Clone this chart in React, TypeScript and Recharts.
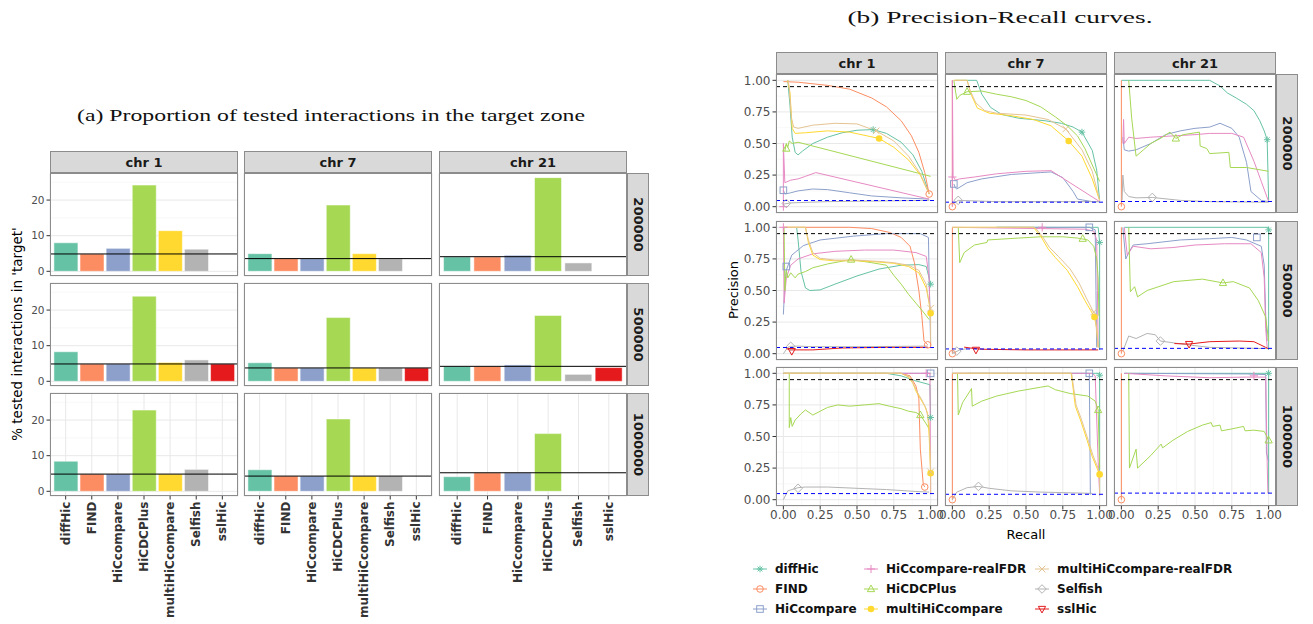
import React from 'react';
import {
  BarChart, Bar, Cell, XAxis, YAxis, CartesianGrid, ReferenceLine,
  ComposedChart, Line, Scatter,
} from 'recharts';

type Pt = [number, number];
type Curve = { m: string; pts: Pt[]; mark: Pt | null };

const FONT = '"DejaVu Sans", sans-serif';
const SERIF = '"Liberation Serif", serif';

const COLORS: Record<string, string> = {
  diffHic: '#66C2A5',
  FIND: '#FC8D62',
  HiCcompare: '#8DA0CB',
  'HiCcompare-realFDR': '#E78AC3',
  HiCDCPlus: '#A6D854',
  multiHiCcompare: '#FFD92F',
  'multiHiCcompare-realFDR': '#E5C494',
  Selfish: '#B3B3B3',
  sslHic: '#E41A1C',
};

const SHAPES: Record<string, string> = {
  diffHic: 'asterisk',
  FIND: 'circle',
  HiCcompare: 'square',
  'HiCcompare-realFDR': 'plus',
  HiCDCPlus: 'triangle',
  multiHiCcompare: 'dot',
  'multiHiCcompare-realFDR': 'cross',
  Selfish: 'diamond',
  sslHic: 'down',
};

const chroms = ['chr 1', 'chr 7', 'chr 21'];
const resolutions = ['200000', '500000', '1000000'];
const legendOrder = [
  'diffHic', 'FIND', 'HiCcompare', 'HiCcompare-realFDR', 'HiCDCPlus',
  'multiHiCcompare', 'multiHiCcompare-realFDR', 'Selfish', 'sslHic',
];

// ---------- (a) proportion of tested interactions in the target zone ----------
const methodsA = ['diffHic', 'FIND', 'HiCcompare', 'HiCDCPlus', 'multiHiCcompare', 'Selfish', 'sslHic'];
const methodsA21 = ['diffHic', 'FIND', 'HiCcompare', 'HiCDCPlus', 'Selfish', 'sslHic'];

const pct_chr1_200000 = [8.0, 4.87, 6.45, 24.2, 11.4, 6.2, null];
const pct_chr7_200000 = [4.95, 3.56, 3.56, 18.6, 4.95, 3.5, null];
const pct_chr21_200000 = [4.05, 4.05, 4.5, 26.3, 2.35, null];
const pct_chr1_500000 = [8.3, 4.87, 4.87, 23.9, 5.3, 6.0, 4.87];
const pct_chr7_500000 = [5.2, 3.75, 3.75, 17.9, 3.75, 3.75, 3.75];
const pct_chr21_500000 = [4.2, 4.2, 4.6, 18.5, 1.95, 3.85];
const pct_chr1_1000000 = [8.45, 4.83, 4.83, 22.8, 4.83, 6.15, null];
const pct_chr7_1000000 = [6.05, 4.27, 4.27, 20.3, 4.27, 4.27, null];
const pct_chr21_1000000 = [4.1, 5.2, 5.2, 16.2, null, null];

// share of the target zone among all interactions (%), per chromosome
const target_200000 = [4.87, 3.56, 4.1];
const target_500000 = [4.87, 3.75, 4.2];
const target_1000000 = [4.83, 4.27, 5.2];

// ---------- (b) precision-recall curves ----------
const pr_chr1_200000: Curve[] = [
  { m: 'diffHic', pts: [[0.03, 1], [0.045, 0.8], [0.06, 0.55], [0.08, 0.43], [0.1, 0.41], [0.13, 0.44], [0.2, 0.5], [0.3, 0.55], [0.4, 0.585], [0.5, 0.605], [0.61, 0.61], [0.7, 0.58], [0.8, 0.51], [0.88, 0.41], [0.94, 0.28], [0.99, 0.1]], mark: [0.61, 0.61] },
  { m: 'FIND', pts: [[0, 0.99], [0.1, 0.985], [0.3, 0.96], [0.45, 0.93], [0.6, 0.86], [0.7, 0.79], [0.8, 0.68], [0.87, 0.56], [0.92, 0.43], [0.96, 0.27], [0.99, 0.1]], mark: [0.99, 0.1] },
  { m: 'HiCcompare', pts: [[0, 0.13], [0.01, 0.1], [0.05, 0.11], [0.1, 0.125], [0.2, 0.14], [0.3, 0.135], [0.45, 0.11], [0.6, 0.085], [0.8, 0.07], [0.99, 0.06]], mark: [0, 0.13] },
  { m: 'HiCcompare-realFDR', pts: [[0, 0], [0, 0.5], [0.01, 0.19], [0.05, 0.21], [0.1, 0.22], [0.15, 0.24], [0.22, 0.27], [0.99, 0.06]], mark: [0, 0] },
  { m: 'HiCDCPlus', pts: [[0.01, 0.44], [0.02, 0.5], [0.03, 0.47], [0.04, 0.52], [0.06, 0.5], [0.1, 0.51], [0.15, 0.495], [1.0, 0.24]], mark: [0.02, 0.46] },
  { m: 'multiHiCcompare', pts: [[0.03, 1], [0.045, 0.9], [0.06, 0.62], [0.08, 0.58], [0.15, 0.585], [0.3, 0.6], [0.45, 0.59], [0.65, 0.54], [0.75, 0.47], [0.85, 0.37], [0.93, 0.25], [0.99, 0.1]], mark: [0.65, 0.54] },
  { m: 'multiHiCcompare-realFDR', pts: [[0.03, 1], [0.04, 0.95], [0.055, 0.7], [0.07, 0.63], [0.1, 0.62], [0.2, 0.645], [0.35, 0.66], [0.5, 0.655], [0.63, 0.6], [0.75, 0.52], [0.85, 0.4], [0.93, 0.26], [0.99, 0.1]], mark: [0.63, 0.6] },
  { m: 'Selfish', pts: [[0, 0.02], [0.05, 0.03], [0.3, 0.04], [0.99, 0.05]], mark: [0.02, 0.026] },
];

const pr_chr7_200000: Curve[] = [
  { m: 'diffHic', pts: [[0.02, 1], [0.165, 1], [0.2, 0.89], [0.26, 0.785], [0.335, 0.73], [0.45, 0.7], [0.63, 0.68], [0.74, 0.66], [0.82, 0.63], [0.88, 0.59], [0.95, 0.445], [0.98, 0.29], [1.0, 0.05]], mark: [0.88, 0.59] },
  { m: 'FIND', pts: [[0, 0], [0, 1]], mark: [0, 0] },
  { m: 'HiCcompare', pts: [[0.01, 0.18], [0.02, 0.15], [0.03, 0.14], [0.1, 0.19], [0.2, 0.22], [0.4, 0.255], [0.6, 0.27], [0.67, 0.275], [0.75, 0.23], [0.82, 0.12], [0.85, 0.06], [0.95, 0.04], [1.0, 0.04]], mark: [0.01, 0.18] },
  { m: 'HiCcompare-realFDR', pts: [[0, 0], [0, 1], [0.005, 0.24], [0.02, 0.21], [0.05, 0.22], [0.15, 0.235], [0.3, 0.26], [0.5, 0.28], [0.67, 0.285], [1.0, 0.04]], mark: [0, 0.235] },
  { m: 'HiCDCPlus', pts: [[0.01, 1], [0.03, 0.85], [0.05, 0.88], [0.1, 0.91], [0.2, 0.915], [0.3, 0.89], [0.4, 0.87], [0.5, 0.84], [0.6, 0.79], [0.7, 0.71], [0.78, 0.64], [0.85, 0.56], [0.9, 0.46], [0.95, 0.33], [1.0, 0.2]], mark: [0.1, 0.91] },
  { m: 'multiHiCcompare', pts: [[0.01, 1], [0.1, 1], [0.13, 0.88], [0.17, 0.78], [0.25, 0.74], [0.4, 0.72], [0.55, 0.69], [0.67, 0.64], [0.79, 0.52], [0.88, 0.4], [0.95, 0.22], [1.0, 0.05]], mark: [0.79, 0.52] },
  { m: 'multiHiCcompare-realFDR', pts: [[0.01, 1], [0.1, 1], [0.12, 0.92], [0.16, 0.82], [0.22, 0.76], [0.3, 0.74], [0.5, 0.725], [0.65, 0.69], [0.77, 0.615], [0.88, 0.45], [0.95, 0.28], [1.0, 0.05]], mark: [0.77, 0.615] },
  { m: 'Selfish', pts: [[0, 0.02], [0.04, 0.05], [0.3, 0.04], [1.0, 0.04]], mark: [0.04, 0.05] },
];

const pr_chr21_200000: Curve[] = [
  { m: 'diffHic', pts: [[0, 1], [0.6, 1], [0.67, 0.955], [0.72, 0.9], [0.78, 0.86], [0.85, 0.81], [0.9, 0.76], [0.94, 0.68], [0.97, 0.6], [0.99, 0.53], [1.0, 0.05]], mark: [0.99, 0.53] },
  { m: 'FIND', pts: [[0, 0], [0, 1]], mark: [0, 0] },
  { m: 'HiCcompare', pts: [[0.01, 0.55], [0.02, 0.45], [0.05, 0.44], [0.1, 0.45], [0.2, 0.5], [0.3, 0.57], [0.4, 0.6], [0.5, 0.62], [0.6, 0.63], [0.67, 0.66], [0.75, 0.62], [0.8, 0.55], [0.85, 0.35], [0.88, 0.12], [0.95, 0.05], [1.0, 0.04]], mark: null },
  { m: 'HiCcompare-realFDR', pts: [[0.01, 0.5], [0.015, 0.69], [0.02, 0.5], [0.05, 0.55], [0.1, 0.54], [0.2, 0.55], [0.35, 0.56], [0.5, 0.57], [0.6, 0.58], [0.75, 0.58], [0.83, 0.55], [0.9, 0.36], [0.95, 0.2], [1.0, 0.04]], mark: null },
  { m: 'HiCDCPlus', pts: [[0.05, 1], [0.07, 0.7], [0.1, 0.4], [0.15, 0.45], [0.2, 0.5], [0.28, 0.55], [0.33, 0.59], [0.37, 0.54], [0.42, 0.57], [0.53, 0.59], [0.535, 0.48], [0.58, 0.46], [0.6, 0.42], [0.73, 0.43], [0.74, 0.31], [0.85, 0.31], [1.0, 0.28]], mark: [0.37, 0.54] },
  { m: 'Selfish', pts: [[0.005, 0.05], [0.01, 0.25], [0.02, 0.12], [0.05, 0.08], [0.1, 0.07], [0.21, 0.073], [0.4, 0.05], [0.6, 0.04], [1.0, 0.035]], mark: [0.21, 0.073] },
];

const pr_chr1_500000: Curve[] = [
  { m: 'diffHic', pts: [[0.09, 1], [0.1, 0.9], [0.12, 0.65], [0.15, 0.52], [0.18, 0.5], [0.25, 0.505], [0.35, 0.55], [0.5, 0.615], [0.65, 0.67], [0.8, 0.7], [0.92, 0.705], [0.97, 0.69], [1.0, 0.55]], mark: [1.0, 0.55] },
  { m: 'FIND', pts: [[0, 1], [0.45, 1], [0.6, 0.99], [0.72, 0.96], [0.8, 0.92], [0.86, 0.85], [0.89, 0.72], [0.92, 0.5], [0.94, 0.3], [0.955, 0.1], [0.98, 0.07]], mark: [0.98, 0.07] },
  { m: 'HiCcompare', pts: [[0, 0.31], [0.01, 0.55], [0.02, 0.66], [0.057, 0.78], [0.135, 0.855], [0.25, 0.9], [0.475, 0.93], [0.7, 0.95], [0.93, 0.95], [0.985, 0.92], [0.99, 0.6], [1.0, 0.08]], mark: [0.02, 0.69] },
  { m: 'HiCcompare-realFDR', pts: [[0, 1], [0.005, 0.4], [0.02, 0.6], [0.05, 0.7], [0.1, 0.75], [0.2, 0.79], [0.35, 0.81], [0.55, 0.82], [0.75, 0.82], [0.9, 0.8], [0.97, 0.77], [0.99, 0.6], [0.995, 0.3]], mark: [0, 1] },
  { m: 'HiCDCPlus', pts: [[0.005, 1], [0.01, 0.5], [0.02, 0.66], [0.03, 0.6], [0.05, 0.64], [0.08, 0.6], [0.1, 0.63], [0.15, 0.65], [0.2, 0.68], [0.3, 0.71], [0.46, 0.745], [0.6, 0.72], [0.7, 0.7], [0.75, 0.62], [0.8, 0.55], [0.85, 0.47], [0.9, 0.4], [0.95, 0.33], [0.99, 0.27]], mark: [0.46, 0.745] },
  { m: 'multiHiCcompare', pts: [[0.005, 1], [0.15, 1], [0.17, 0.88], [0.2, 0.78], [0.25, 0.745], [0.35, 0.735], [0.5, 0.735], [0.65, 0.725], [0.75, 0.715], [0.85, 0.69], [0.92, 0.64], [0.97, 0.52], [0.99, 0.4], [1.0, 0.32]], mark: [1.0, 0.32] },
  { m: 'multiHiCcompare-realFDR', pts: [[0.005, 1], [0.15, 1], [0.17, 0.9], [0.2, 0.8], [0.25, 0.755], [0.35, 0.74], [0.5, 0.74], [0.65, 0.73], [0.75, 0.72], [0.85, 0.7], [0.92, 0.66], [0.97, 0.55], [0.99, 0.4], [1.0, 0.34], [1.0, 0.05]], mark: [1.0, 0.36] },
  { m: 'Selfish', pts: [[0, 0], [0.03, 0.05], [0.05, 0.058], [0.1, 0.06], [0.2, 0.055], [0.5, 0.055], [0.98, 0.06]], mark: [0.05, 0.058] },
  { m: 'sslHic', pts: [[0.02, 0.04], [0.05, 0.03], [0.2, 0.03], [0.4, 0.045], [0.7, 0.05], [0.98, 0.05]], mark: [0.057, 0.02] },
];

const pr_chr7_500000: Curve[] = [
  { m: 'diffHic', pts: [[0.3, 1], [0.99, 1], [1.0, 0.88], [1.0, 0.03]], mark: [1.0, 0.88] },
  { m: 'FIND', pts: [[0, 0], [0, 1]], mark: [0, 0] },
  { m: 'HiCcompare', pts: [[0.3, 1], [0.93, 1], [0.97, 0.98], [0.975, 0.5], [0.98, 0.05]], mark: [0.93, 1.0] },
  { m: 'HiCcompare-realFDR', pts: [[0, 1], [0.6, 0.99], [0.9, 0.985], [0.96, 0.97], [0.98, 0.9], [0.985, 0.5], [0.99, 0.05]], mark: [0.61, 1.0] },
  { m: 'HiCDCPlus', pts: [[0.04, 1], [0.05, 0.72], [0.08, 0.8], [0.15, 0.86], [0.235, 0.88], [0.24, 0.9], [0.45, 0.915], [0.6, 0.925], [0.75, 0.925], [0.85, 0.915], [0.92, 0.9], [0.96, 0.85], [0.98, 0.75], [0.99, 0.6], [0.995, 0.3]], mark: [0.885, 0.91] },
  { m: 'multiHiCcompare', pts: [[0, 1], [0.55, 1], [0.6, 0.93], [0.65, 0.83], [0.7, 0.76], [0.78, 0.66], [0.85, 0.53], [0.9, 0.42], [0.94, 0.34], [0.965, 0.29], [0.98, 0.2], [0.99, 0.05]], mark: [0.965, 0.29] },
  { m: 'multiHiCcompare-realFDR', pts: [[0, 1], [0.56, 1], [0.61, 0.93], [0.66, 0.84], [0.72, 0.77], [0.8, 0.67], [0.86, 0.56], [0.91, 0.44], [0.95, 0.35], [0.97, 0.3], [0.99, 0.05]], mark: [0.96, 0.33] },
  { m: 'Selfish', pts: [[0, 0], [0.05, 0.03], [0.1, 0.04]], mark: [0.03, 0.02] },
  { m: 'sslHic', pts: [[0.08, 0.052], [0.12, 0.045], [0.2, 0.035], [0.5, 0.03], [0.99, 0.03]], mark: [0.16, 0.03] },
];

const pr_chr21_500000: Curve[] = [
  { m: 'diffHic', pts: [[0.02, 1], [1.0, 1], [1.0, 0.03]], mark: [1.0, 0.98] },
  { m: 'FIND', pts: [[0, 0], [0, 1]], mark: [0, 0] },
  { m: 'HiCcompare', pts: [[0.01, 1], [0.03, 0.75], [0.05, 0.8], [0.08, 0.86], [0.175, 0.87], [0.4, 0.9], [0.6, 0.91], [0.75, 0.92], [0.85, 0.9], [0.95, 0.85], [0.97, 0.7], [0.98, 0.3], [0.99, 0.1]], mark: [0.92, 0.92] },
  { m: 'HiCcompare-realFDR', pts: [[0.02, 1], [0.04, 0.78], [0.08, 0.85], [0.2, 0.83], [0.35, 0.84], [0.5, 0.86], [0.7, 0.87], [0.88, 0.87], [0.95, 0.8], [0.97, 0.6], [0.98, 0.2], [0.99, 0.05]], mark: null },
  { m: 'HiCDCPlus', pts: [[0.05, 1], [0.061, 0.49], [0.09, 0.53], [0.11, 0.45], [0.175, 0.5], [0.356, 0.57], [0.55, 0.59], [0.69, 0.56], [0.76, 0.57], [0.87, 0.52], [0.93, 0.42], [0.98, 0.29], [1.0, 0.1]], mark: [0.69, 0.56] },
  { m: 'Selfish', pts: [[0.01, 0.02], [0.05, 0.14], [0.1, 0.12], [0.175, 0.16], [0.23, 0.15], [0.265, 0.1], [0.36, 0.085], [0.45, 0.07], [0.6, 0.05], [1.0, 0.04]], mark: [0.265, 0.1] },
  { m: 'sslHic', pts: [[0.36, 0.08], [0.46, 0.076], [0.6, 0.095], [0.8, 0.1], [0.9, 0.095], [0.98, 0.05], [1.0, 0.04]], mark: [0.46, 0.076] },
];

const pr_chr1_1000000: Curve[] = [
  { m: 'diffHic', pts: [[0, 1], [0.7, 1], [0.8, 0.98], [0.9, 0.94], [0.995, 0.91], [1.0, 0.65]], mark: [1.0, 0.65] },
  { m: 'FIND', pts: [[0, 1], [0.8, 1], [0.86, 0.98], [0.9, 0.9], [0.92, 0.8], [0.93, 0.4], [0.95, 0.12], [0.96, 0.1]], mark: [0.96, 0.1] },
  { m: 'HiCcompare', pts: [[0, 1], [1.0, 1]], mark: [1.0, 1.0] },
  { m: 'HiCcompare-realFDR', pts: [[0.75, 1], [0.995, 1], [1.0, 0.05]], mark: [0.97, 1.0] },
  { m: 'HiCDCPlus', pts: [[0.04, 1], [0.04, 0.57], [0.05, 0.65], [0.06, 0.58], [0.08, 0.63], [0.12, 0.68], [0.15, 0.71], [0.2, 0.67], [0.25, 0.7], [0.3, 0.73], [0.37, 0.75], [0.45, 0.74], [0.55, 0.75], [0.65, 0.76], [0.72, 0.74], [0.8, 0.72], [0.85, 0.7], [0.9, 0.69], [0.93, 0.67], [0.97, 0.6], [0.99, 0.56]], mark: [0.93, 0.67] },
  { m: 'multiHiCcompare', pts: [[0, 1], [0.8, 1], [0.85, 0.97], [0.88, 0.92], [0.9, 0.86], [0.93, 0.8], [0.96, 0.74], [0.98, 0.68], [0.99, 0.5], [1.0, 0.21]], mark: [1.0, 0.21] },
  { m: 'multiHiCcompare-realFDR', pts: [[0, 1], [0.8, 1], [0.86, 0.97], [0.89, 0.9], [0.91, 0.85], [0.94, 0.79], [0.97, 0.72], [0.99, 0.6], [1.0, 0.22], [1.0, 0.05]], mark: [1.0, 0.22] },
  { m: 'Selfish', pts: [[0, 0], [0.03, 0.07], [0.1, 0.095], [0.15, 0.1], [0.3, 0.1], [0.5, 0.09], [0.7, 0.08], [0.9, 0.065], [0.99, 0.06]], mark: [0.1, 0.09] },
];

const pr_chr7_1000000: Curve[] = [
  { m: 'diffHic', pts: [[0.1, 1], [1.0, 1], [1.0, 0.05]], mark: [1.0, 0.985] },
  { m: 'FIND', pts: [[0, 0], [0, 1]], mark: [0, 0] },
  { m: 'HiCcompare', pts: [[0, 1], [0.93, 1], [0.937, 0.04]], mark: [0.93, 1.0] },
  { m: 'HiCcompare-realFDR', pts: [[0, 1], [0.95, 1], [0.97, 0.98], [0.99, 0.3], [1.0, 0.05]], mark: null },
  { m: 'HiCDCPlus', pts: [[0.035, 1], [0.04, 0.67], [0.07, 0.77], [0.12, 0.86], [0.13, 0.88], [0.135, 0.74], [0.2, 0.78], [0.3, 0.82], [0.45, 0.86], [0.6, 0.89], [0.65, 0.9], [0.7, 0.87], [0.8, 0.84], [0.92, 0.82], [0.97, 0.78], [0.99, 0.71], [1.0, 0.25]], mark: [0.99, 0.71] },
  { m: 'multiHiCcompare', pts: [[0, 1], [0.807, 1], [0.835, 0.74], [0.87, 0.63], [0.915, 0.47], [0.95, 0.34], [1.0, 0.2]], mark: [1.0, 0.2] },
  { m: 'multiHiCcompare-realFDR', pts: [[0, 1], [0.81, 1], [0.84, 0.75], [0.875, 0.64], [0.92, 0.48], [0.955, 0.35], [1.0, 0.22], [1.0, 0.03]], mark: null },
  { m: 'Selfish', pts: [[0, 0], [0.03, 0.06], [0.1, 0.095], [0.177, 0.105], [0.25, 0.09], [0.4, 0.07], [0.6, 0.06], [0.95, 0.05]], mark: [0.177, 0.105] },
];

const pr_chr21_1000000: Curve[] = [
  { m: 'diffHic', pts: [[0.02, 1], [1.0, 1], [1.0, 0.05]], mark: [1.0, 1.0] },
  { m: 'FIND', pts: [[0, 0], [0, 1]], mark: [0, 0] },
  { m: 'HiCcompare', pts: [[0.02, 1], [0.85, 0.995], [0.98, 0.99], [0.985, 0.37], [1.0, 0.3]], mark: null },
  { m: 'HiCcompare-realFDR', pts: [[0.02, 1], [0.3, 0.98], [0.6, 0.965], [0.85, 0.97], [0.98, 0.97], [0.99, 0.3], [0.995, 0.05]], mark: [0.9, 0.98] },
  { m: 'HiCDCPlus', pts: [[0.05, 1], [0.055, 0.25], [0.1, 0.4], [0.11, 0.25], [0.2, 0.35], [0.27, 0.44], [0.28, 0.41], [0.35, 0.47], [0.45, 0.54], [0.55, 0.59], [0.61, 0.61], [0.62, 0.58], [0.67, 0.59], [0.68, 0.545], [0.75, 0.56], [0.83, 0.58], [0.84, 0.545], [0.9, 0.55], [0.97, 0.54], [1.0, 0.47]], mark: [1.0, 0.47] },
];

const PR_TICKS = [0, 0.25, 0.5, 0.75, 1];
const PR_MINOR = [0.125, 0.375, 0.625, 0.875];
const BAR_TICKS = [0, 10, 20];
const BAR_MINOR = [5, 15, 25];

// ---------- layout ----------
const A_COLX = [50, 244, 439];
const A_ROWY = [173, 283, 393];
const A_W = 188;
const A_H = 103;
const A_YW = 40;
const A_XH = 140;

const B_COLX = [776, 945, 1114];
const B_ROWY = [74, 221, 367];
const B_W = 162;
const B_H = 139;
const B_YW = 40;
const B_XH = 22;

const STRIP = 22;
const BORDER = '#8C8C8C';
const STRIP_FILL = '#D9D9D9';

function Marker({ m, cx, cy }: { m: string; cx: number; cy: number }) {
  const c = COLORS[m];
  const s = 3.3;
  const st = { stroke: c, strokeWidth: 1, fill: 'none' };
  switch (SHAPES[m]) {
    case 'asterisk':
      return (
        <g {...st}>
          <line x1={cx - s} y1={cy} x2={cx + s} y2={cy} />
          <line x1={cx} y1={cy - s} x2={cx} y2={cy + s} />
          <line x1={cx - s * 0.72} y1={cy - s * 0.72} x2={cx + s * 0.72} y2={cy + s * 0.72} />
          <line x1={cx - s * 0.72} y1={cy + s * 0.72} x2={cx + s * 0.72} y2={cy - s * 0.72} />
        </g>
      );
    case 'circle':
      return <circle cx={cx} cy={cy} r={s} {...st} />;
    case 'square':
      return <rect x={cx - s} y={cy - s} width={2 * s} height={2 * s} {...st} />;
    case 'plus':
      return (
        <g {...st}>
          <line x1={cx - s - 0.8} y1={cy} x2={cx + s + 0.8} y2={cy} />
          <line x1={cx} y1={cy - s - 0.8} x2={cx} y2={cy + s + 0.8} />
        </g>
      );
    case 'triangle':
      return <polygon points={`${cx},${cy - s * 1.2} ${cx - s * 1.1},${cy + s * 0.8} ${cx + s * 1.1},${cy + s * 0.8}`} {...st} />;
    case 'dot':
      return <circle cx={cx} cy={cy} r={s} fill={c} stroke="none" />;
    case 'cross':
      return (
        <g {...st}>
          <line x1={cx - s} y1={cy - s} x2={cx + s} y2={cy + s} />
          <line x1={cx - s} y1={cy + s} x2={cx + s} y2={cy - s} />
        </g>
      );
    case 'diamond':
      return <polygon points={`${cx},${cy - s * 1.3} ${cx + s * 1.3},${cy} ${cx},${cy + s * 1.3} ${cx - s * 1.3},${cy}`} {...st} />;
    case 'down':
      return <polygon points={`${cx},${cy + s * 1.2} ${cx - s * 1.1},${cy - s * 0.8} ${cx + s * 1.1},${cy - s * 0.8}`} {...st} />;
    default:
      return null;
  }
}

const RotTick = (props: any) => {
  const { x, y, payload } = props;
  return (
    <text
      x={x}
      y={y}
      transform={`rotate(-90, ${x}, ${y})`}
      textAnchor="end"
      dominantBaseline="central"
      fontFamily={FONT}
      fontSize={12}
      fontWeight="bold"
      fill="#333333"
    >
      {payload.value}
    </text>
  );
};

function BarPanel({ cats, vals, target, row, col }: {
  cats: string[]; vals: (number | null)[]; target: number; row: number; col: number;
}) {
  const showY = col === 0;
  const showX = row === 2;
  const data = cats.map((m, i) => ({ m, v: vals[i] }));
  const unit = A_W / (cats.length + 0.2);
  const pad = unit * 0.1;
  return (
    <div style={{ position: 'absolute', left: A_COLX[col] - (showY ? A_YW : 0), top: A_ROWY[row] }}>
      <BarChart
        width={A_W + (showY ? A_YW : 0)}
        height={A_H + (showX ? A_XH : 0)}
        data={data}
        margin={{ top: 0, right: 0, bottom: 0, left: 0 }}
        barCategoryGap="5%"
      >
        <CartesianGrid vertical={false} horizontalValues={BAR_MINOR} stroke="#F3F3F3" strokeWidth={0.6} />
        <CartesianGrid stroke="#E8E8E8" strokeWidth={1} />
        <XAxis
          dataKey="m"
          type="category"
          interval={0}
          padding={{ left: pad, right: pad }}
          height={showX ? A_XH : 0}
          axisLine={false}
          tickLine={showX ? { stroke: '#333' } : false}
          tickSize={3.5}
          tickMargin={2}
          tick={showX ? <RotTick /> : false}
        />
        <YAxis
          type="number"
          domain={[-1.32, 27.6]}
          ticks={BAR_TICKS}
          interval={0}
          width={showY ? A_YW : 0}
          axisLine={false}
          tickLine={showY ? { stroke: '#333' } : false}
          tickSize={3.5}
          tickMargin={2}
          tick={showY ? { fontSize: 10.5, fill: '#4D4D4D', fontFamily: FONT } : false}
        />
        <Bar dataKey="v" isAnimationActive={false} stroke="#FFFFFF" strokeWidth={0.5}>
          {data.map((d) => (
            <Cell key={d.m} fill={COLORS[d.m]} />
          ))}
        </Bar>
        <ReferenceLine y={target} stroke="#000000" strokeWidth={1} />
      </BarChart>
    </div>
  );
}

function PRPanel({ curves, prev, row, col }: { curves: Curve[]; prev: number; row: number; col: number }) {
  const showY = col === 0;
  const showX = row === 2;
  return (
    <div style={{ position: 'absolute', left: B_COLX[col] - (showY ? B_YW : 0), top: B_ROWY[row] }}>
      <ComposedChart
        width={B_W + (showY ? B_YW : 0)}
        height={B_H + (showX ? B_XH : 0)}
        margin={{ top: 0, right: 0, bottom: 0, left: 0 }}
      >
        <CartesianGrid horizontalValues={PR_MINOR} verticalValues={PR_MINOR} stroke="#F3F3F3" strokeWidth={0.6} />
        <CartesianGrid stroke="#E8E8E8" strokeWidth={1} />
        <XAxis
          type="number"
          dataKey="x"
          domain={[-0.05, 1.05]}
          ticks={PR_TICKS}
          interval={0}
          allowDataOverflow
          height={showX ? B_XH : 0}
          axisLine={false}
          tickLine={showX ? { stroke: '#333' } : false}
          tickSize={3.5}
          tickMargin={1}
          tickFormatter={(v: number) => v.toFixed(2)}
          tick={showX ? { fontSize: 12, fill: '#4D4D4D', fontFamily: FONT } : false}
        />
        <YAxis
          type="number"
          dataKey="y"
          domain={[-0.05, 1.05]}
          ticks={PR_TICKS}
          interval={0}
          allowDataOverflow
          width={showY ? B_YW : 0}
          axisLine={false}
          tickLine={showY ? { stroke: '#333' } : false}
          tickSize={3.5}
          tickMargin={2}
          tickFormatter={(v: number) => v.toFixed(2)}
          tick={showY ? { fontSize: 12, fill: '#4D4D4D', fontFamily: FONT } : false}
        />
        {curves.map((c) => (
          <Line
            key={c.m}
            name={c.m}
            data={c.pts.map(([x, y]) => ({ x, y }))}
            dataKey="y"
            type="linear"
            stroke={COLORS[c.m]}
            strokeWidth={1}
            dot={false}
            isAnimationActive={false}
          />
        ))}
        {curves.filter((c) => c.mark).map((c) => (
          <Scatter
            key={c.m + '-mark'}
            name={c.m + '-mark'}
            data={[{ x: (c.mark as Pt)[0], y: (c.mark as Pt)[1] }]}
            isAnimationActive={false}
            shape={(p: any) => <Marker m={c.m} cx={p.cx} cy={p.cy} />}
          />
        ))}
        <ReferenceLine y={0.95} stroke="#000000" strokeDasharray="4 3" strokeWidth={1} />
        <ReferenceLine y={prev} stroke="#0000FF" strokeDasharray="4 3" strokeWidth={1} />
      </ComposedChart>
    </div>
  );
}

const barGrid = [
  [pct_chr1_200000, pct_chr7_200000, pct_chr21_200000],
  [pct_chr1_500000, pct_chr7_500000, pct_chr21_500000],
  [pct_chr1_1000000, pct_chr7_1000000, pct_chr21_1000000],
];
const targetGrid = [target_200000, target_500000, target_1000000];
const prGrid = [
  [pr_chr1_200000, pr_chr7_200000, pr_chr21_200000],
  [pr_chr1_500000, pr_chr7_500000, pr_chr21_500000],
  [pr_chr1_1000000, pr_chr7_1000000, pr_chr21_1000000],
];

function Overlay() {
  const stripText = { fontFamily: FONT, fontSize: 13, fontWeight: 'bold' as const, fill: '#1A1A1A' };
  const legendCols = [
    { x: 753, items: legendOrder.slice(0, 3) },
    { x: 864, items: legendOrder.slice(3, 6) },
    { x: 1035, items: legendOrder.slice(6, 9) },
  ];
  const legendRows = [569, 589, 609];
  return (
    <svg width={1313} height={624} style={{ position: 'absolute', left: 0, top: 0, pointerEvents: 'none' }}>
      {/* titles */}
      <text x={331} y={121} textAnchor="middle" fontFamily={SERIF} fontSize={17.5} textLength={508} lengthAdjust="spacingAndGlyphs" fill="#111">
        (a) Proportion of tested interactions in the target zone
      </text>
      <text x={1000} y={23} textAnchor="middle" fontFamily={SERIF} fontSize={17.5} textLength={305} lengthAdjust="spacingAndGlyphs" fill="#111">
        (b) Precision-Recall curves.
      </text>

      {/* (a) strips and borders */}
      {chroms.map((c, j) => (
        <g key={'as' + c}>
          <rect x={A_COLX[j] + 0.5} y={A_ROWY[0] - STRIP + 0.5} width={A_W - 1} height={STRIP - 1} fill={STRIP_FILL} stroke={BORDER} />
          <text x={A_COLX[j] + A_W / 2} y={A_ROWY[0] - STRIP / 2} textAnchor="middle" dominantBaseline="central" {...stripText}>{c}</text>
        </g>
      ))}
      {resolutions.map((r, i) => (
        <g key={'ar' + r}>
          <rect x={A_COLX[2] + A_W + 0.5} y={A_ROWY[i] + 0.5} width={STRIP - 1} height={A_H - 1} fill={STRIP_FILL} stroke={BORDER} />
          <text
            x={A_COLX[2] + A_W + STRIP / 2}
            y={A_ROWY[i] + A_H / 2}
            transform={`rotate(90, ${A_COLX[2] + A_W + STRIP / 2}, ${A_ROWY[i] + A_H / 2})`}
            textAnchor="middle"
            dominantBaseline="central"
            {...stripText}
          >
            {r}
          </text>
        </g>
      ))}
      {A_ROWY.map((y) => A_COLX.map((x) => (
        <rect key={'ab' + x + '-' + y} x={x + 0.5} y={y + 0.5} width={A_W - 1} height={A_H - 1} fill="none" stroke={BORDER} />
      )))}
      <text
        x={17}
        y={334}
        transform="rotate(-90, 17, 334)"
        textAnchor="middle"
        dominantBaseline="central"
        fontFamily={FONT}
        fontSize={13.5}
        fill="#000"
      >
        % tested interactions in 'target'
      </text>

      {/* (b) strips and borders */}
      {chroms.map((c, j) => (
        <g key={'bs' + c}>
          <rect x={B_COLX[j] + 0.5} y={B_ROWY[0] - STRIP + 0.5} width={B_W - 1} height={STRIP - 1} fill={STRIP_FILL} stroke={BORDER} />
          <text x={B_COLX[j] + B_W / 2} y={B_ROWY[0] - STRIP / 2} textAnchor="middle" dominantBaseline="central" {...stripText}>{c}</text>
        </g>
      ))}
      {resolutions.map((r, i) => (
        <g key={'br' + r}>
          <rect x={B_COLX[2] + B_W + 0.5} y={B_ROWY[i] + 0.5} width={STRIP - 1} height={B_H - 1} fill={STRIP_FILL} stroke={BORDER} />
          <text
            x={B_COLX[2] + B_W + STRIP / 2}
            y={B_ROWY[i] + B_H / 2}
            transform={`rotate(90, ${B_COLX[2] + B_W + STRIP / 2}, ${B_ROWY[i] + B_H / 2})`}
            textAnchor="middle"
            dominantBaseline="central"
            {...stripText}
          >
            {r}
          </text>
        </g>
      ))}
      {B_ROWY.map((y) => B_COLX.map((x) => (
        <rect key={'bb' + x + '-' + y} x={x + 0.5} y={y + 0.5} width={B_W - 1} height={B_H - 1} fill="none" stroke={BORDER} />
      )))}
      <text x={733} y={290} transform="rotate(-90, 733, 290)" textAnchor="middle" dominantBaseline="central" fontFamily={FONT} fontSize={13} fill="#000">
        Precision
      </text>
      <text x={1026} y={534} textAnchor="middle" dominantBaseline="central" fontFamily={FONT} fontSize={13} fill="#000">
        Recall
      </text>

      {/* legend */}
      {legendCols.map((col) => col.items.map((m, k) => (
        <g key={'lg' + m}>
          <line x1={col.x} y1={legendRows[k]} x2={col.x + 14} y2={legendRows[k]} stroke={COLORS[m]} strokeWidth={1} />
          <Marker m={m} cx={col.x + 7} cy={legendRows[k]} />
          <text x={col.x + 22} y={legendRows[k]} dominantBaseline="central" fontFamily={FONT} fontSize={12} fontWeight="bold" fill="#111">
            {m}
          </text>
        </g>
      )))}
    </svg>
  );
}

export default function App() {
  return (
    <div style={{ position: 'absolute', left: 0, top: 0, width: 1313, height: 624, overflow: 'hidden', background: '#fff' }}>
      <style>{'.recharts-surface { overflow: visible; } .recharts-wrapper { overflow: visible; }'}</style>
      {barGrid.map((rowVals, i) => rowVals.map((vals, j) => (
        <BarPanel
          key={`a-${i}-${j}`}
          cats={j === 2 ? methodsA21 : methodsA}
          vals={vals}
          target={targetGrid[i][j]}
          row={i}
          col={j}
        />
      )))}
      {prGrid.map((rowCurves, i) => rowCurves.map((curves, j) => (
        <PRPanel
          key={`b-${i}-${j}`}
          curves={curves}
          prev={targetGrid[i][j] / 100}
          row={i}
          col={j}
        />
      )))}
      <Overlay />
    </div>
  );
}
